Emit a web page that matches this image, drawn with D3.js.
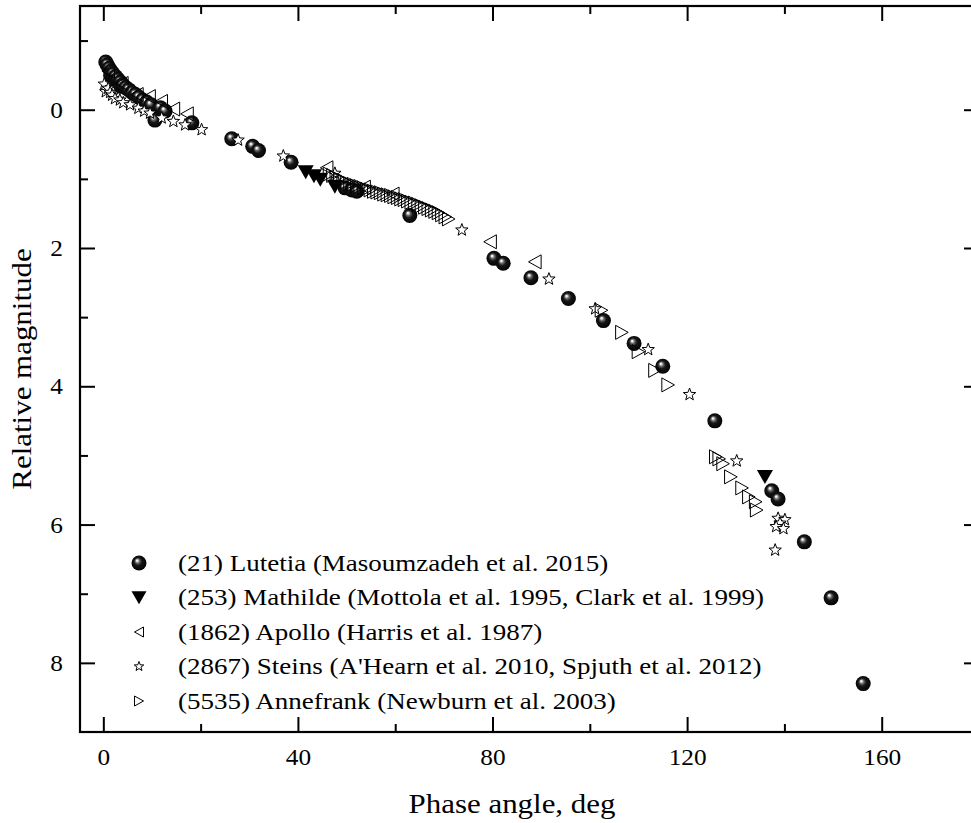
<!DOCTYPE html>
<html><head><meta charset="utf-8">
<script src="https://cdn.jsdelivr.net/npm/d3@7/dist/d3.min.js"></script>
<style>
html,body{margin:0;padding:0;background:#fff;}
svg text{font-family:"Liberation Serif","Times New Roman",serif;fill:#000;}
</style></head>
<body>
<svg id="chart" width="971" height="823"></svg>
<script>
// ---- data (phase angle deg, relative magnitude) ----
const lutetia = [[0.5,-0.69],[0.8,-0.65],[1.2,-0.60],[1.6,-0.56],[1.5,-0.50],[2.0,-0.52],[2.5,-0.48],[2.6,-0.42],[3.0,-0.44],[3.5,-0.40],[3.6,-0.34],[4.0,-0.36],[4.6,-0.32],[5.2,-0.29],[5.9,-0.25],[6.6,-0.22],[7.3,-0.18],[8.1,-0.14],[8.9,-0.11],[9.8,-0.07],[10.6,0.15],[11.7,-0.03],[12.7,0.02],[18.2,0.19],[26.4,0.42],[30.7,0.53],[31.9,0.59],[38.6,0.76],[49.7,1.13],[51.1,1.16],[52.1,1.18],[63.0,1.53],[80.3,2.15],[82.2,2.22],[87.9,2.43],[95.6,2.73],[102.8,3.05],[109.1,3.38],[115.0,3.71],[125.7,4.50],[137.4,5.51],[138.7,5.63],[144.1,6.25],[149.6,7.06],[156.2,8.30]];
const mathilde = [[41.6,0.90],[43.3,0.96],[44.6,1.01],[47.6,1.11],[136.0,5.31]];
const apollo = [[1.0,-0.56],[3.8,-0.38],[6.9,-0.22],[9.4,-0.19],[11.9,-0.12],[14.4,-0.01],[17.2,0.06],[45.9,0.84],[53.6,1.12],[59.5,1.22],[79.5,1.91],[88.7,2.20]];
const steins = [[0.2,-0.37],[0.5,-0.26],[1.0,-0.31],[1.4,-0.25],[1.8,-0.21],[2.4,-0.16],[3.4,-0.14],[4.1,-0.10],[5.5,-0.07],[7.2,-0.02],[8.4,0.02],[9.6,0.05],[12.0,0.12],[14.4,0.17],[16.8,0.22],[20.2,0.29],[27.7,0.44],[37.0,0.67],[47.6,0.92],[73.7,1.74],[91.6,2.45],[101.1,2.88],[112.0,3.47],[120.5,4.12],[130.2,5.08],[138.7,5.91],[140.1,5.93],[139.1,5.98],[138.3,6.03],[139.8,6.06],[138.1,6.37]];
const annefrank = [[46.5,0.93],[47.2,0.95],[47.9,0.98],[48.6,1.00],[49.3,1.02],[50.0,1.05],[50.7,1.07],[51.4,1.08],[52.1,1.10],[52.8,1.11],[53.5,1.13],[54.2,1.15],[54.9,1.16],[55.6,1.18],[56.3,1.19],[57.0,1.20],[57.7,1.22],[58.4,1.23],[59.1,1.24],[59.8,1.26],[60.5,1.27],[61.2,1.29],[61.9,1.30],[62.6,1.32],[63.3,1.34],[64.0,1.35],[64.7,1.37],[65.4,1.39],[66.1,1.41],[66.8,1.43],[67.5,1.45],[68.2,1.47],[68.9,1.49],[69.6,1.52],[70.3,1.55],[71.0,1.58],[102.4,2.90],[106.6,3.22],[110.0,3.50],[113.4,3.77],[116.1,3.98],[125.9,5.02],[126.6,5.05],[127.4,5.12],[129.0,5.31],[131.3,5.47],[132.7,5.60],[134.1,5.67],[134.3,5.79]];
const legendLabels = ["(21) Lutetia (Masoumzadeh et al. 2015)","(253) Mathilde (Mottola et al. 1995, Clark et al. 1999)","(1862) Apollo (Harris et al. 1987)","(2867) Steins (A'Hearn et al. 2010, Spjuth et al. 2012)","(5535) Annefrank (Newburn et al. 2003)"];
const xMajor = [0,40,80,120,160];
const xMinor = [20,60,100,140];
const yMajor = [0,2,4,6,8];
const yMinor = [-1,1,3,5,7];
const xTitle = "Phase angle, deg";
const yTitle = "Relative magnitude";

// ---- drawing ----
const SX = 1.125; // horizontal stretch of the reference typography
const svg = d3.select("#chart");
const x = d3.scaleLinear().domain([-5,180]).range([79,979]);
const y = d3.scaleLinear().domain([-1.5,9]).range([6,732]);

const defs = svg.append("defs");
const grad = defs.append("radialGradient").attr("id","ball")
  .attr("cx","50%").attr("cy","50%").attr("r","55%").attr("fx","36%").attr("fy","32%");
grad.append("stop").attr("offset","0%").attr("stop-color","#ffffff");
grad.append("stop").attr("offset","10%").attr("stop-color","#e6e6e6");
grad.append("stop").attr("offset","26%").attr("stop-color","#6a6a6a");
grad.append("stop").attr("offset","48%").attr("stop-color","#161616");
grad.append("stop").attr("offset","100%").attr("stop-color","#000000");

function ball(g, r){ g.append("circle").attr("r",r).attr("fill","url(#ball)"); }
function triDown(g, s){ g.append("path").attr("d",`M${-s},${-s*0.85}L${s},${-s*0.85}L0,${s*0.9}Z`).attr("fill","#000"); }
function triLeft(g, s){ g.append("path").attr("d",`M${-s*0.9},0L${s*0.9},${-s}L${s*0.9},${s}Z`).attr("fill","none").attr("stroke","#000").attr("stroke-width",1); }
function triRight(g, s){ g.append("path").attr("d",`M${s*0.9},0L${-s*0.9},${-s}L${-s*0.9},${s}Z`).attr("fill","none").attr("stroke","#000").attr("stroke-width",1); }
function star(g, R){
  const pts=[];
  for(let i=0;i<10;i++){const a=-Math.PI/2+i*Math.PI/5;const rr=i%2?R*0.42:R;pts.push([rr*Math.cos(a),rr*Math.sin(a)]);}
  g.append("path").attr("d","M"+pts.map(p=>p.join(",")).join("L")+"Z").attr("fill","#fff").attr("stroke","#000").attr("stroke-width",1);
}

const plot = svg.append("g");
function series(data, fn, size){
  plot.append("g").selectAll("g").data(data).join("g")
    .attr("transform",d=>`translate(${x(d[0])},${y(d[1])})`)
    .each(function(){ fn(d3.select(this), size); });
}
series(lutetia, ball, 7.5);
series(mathilde, triDown, 8);
series(apollo, triLeft, 7);
series(steins, star, 6.5);
series(annefrank, triRight, 7);

// axes
const ax = svg.append("g");
function styleAxis(g){ g.select(".domain").remove(); g.selectAll("line").attr("stroke","#000").attr("stroke-width",2); g.selectAll("text").remove(); }
ax.append("g").attr("transform","translate(0,732)").call(d3.axisBottom(x).tickValues(xMajor).tickSize(-15))
  .call(g=>{g.select(".domain").remove();g.selectAll("line").attr("stroke","#000").attr("stroke-width",2);
    g.selectAll("text").attr("font-size",22.5).attr("dy",0).attr("y",33).attr("transform",`scale(${SX},1)`);});
ax.append("g").attr("transform","translate(0,732)").call(d3.axisBottom(x).tickValues(xMinor).tickSize(-8)).call(styleAxis);
ax.append("g").attr("transform","translate(0,6)").call(d3.axisTop(x).tickValues(xMajor).tickSize(-15)).call(styleAxis);
ax.append("g").attr("transform","translate(0,6)").call(d3.axisTop(x).tickValues(xMinor).tickSize(-8)).call(styleAxis);
ax.append("g").attr("transform","translate(80,0)").call(d3.axisLeft(y).tickValues(yMajor).tickSize(-15))
  .call(g=>{g.select(".domain").remove();g.selectAll("line").attr("stroke","#000").attr("stroke-width",2);
    g.selectAll("text").attr("font-size",22.5).attr("x",-17/SX).attr("dy","0.34em").attr("transform",`scale(${SX},1)`);});
ax.append("g").attr("transform","translate(80,0)").call(d3.axisLeft(y).tickValues(yMinor).tickSize(-8)).call(styleAxis);
ax.append("g").attr("transform","translate(979,0)").call(d3.axisRight(y).tickValues(yMajor).tickSize(-15)).call(styleAxis);
ax.append("g").attr("transform","translate(979,0)").call(d3.axisRight(y).tickValues(yMinor).tickSize(-8)).call(styleAxis);
// frame
svg.append("rect").attr("x",80).attr("y",6).attr("width",899).attr("height",726).attr("fill","none").attr("stroke","#000").attr("stroke-width",2.2);

// titles
svg.append("text").attr("transform",`translate(512,813) scale(${SX},1)`).attr("text-anchor","middle").attr("font-size",27.5).text(xTitle);
svg.append("text").attr("transform",`translate(31,369) rotate(-90) scale(${SX},1)`).attr("text-anchor","middle").attr("font-size",27.5).text(yTitle);

// legend
const legY = [563,597.5,632,666.5,701];
const legFns = [[ball,7.5],[triDown,7.5],[triLeft,5],[star,5],[triRight,5]];
const leg = svg.append("g");
legendLabels.forEach((t,i)=>{
  const g = leg.append("g").attr("transform",`translate(139,${legY[i]})`);
  legFns[i][0](g, legFns[i][1]);
  leg.append("text").attr("transform",`translate(178,${legY[i]}) scale(${SX},1)`).attr("dy","0.33em").attr("font-size",24).text(t);
});
</script>
</body></html>
